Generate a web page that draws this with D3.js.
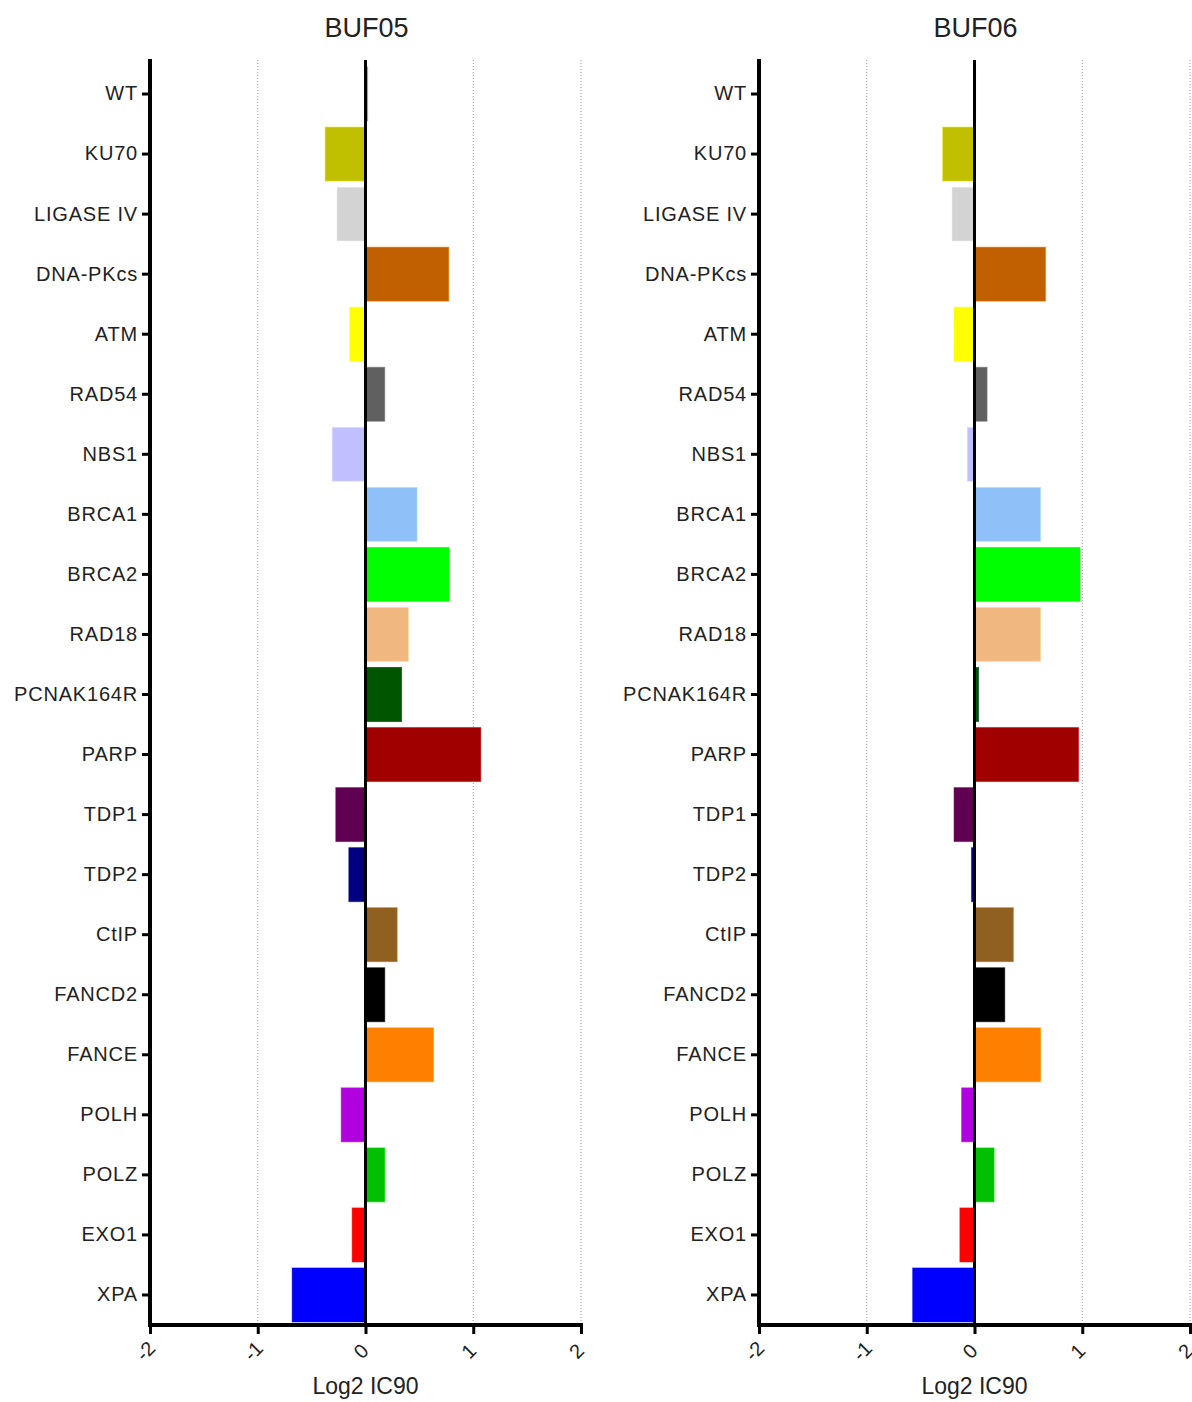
<!DOCTYPE html>
<html>
<head>
<meta charset="utf-8">
<script src="https://cdn.jsdelivr.net/npm/d3@7"></script>
<style>
  body { margin: 0; background: #fff; }
  svg { display: block; font-family: "Liberation Sans", Arial, sans-serif; }
</style>
</head>
<body>
<svg id="chart" width="1192" height="1402"></svg>
<script>
const categories = ["WT","KU70","LIGASE IV","DNA-PKcs","ATM","RAD54","NBS1","BRCA1","BRCA2","RAD18","PCNAK164R","PARP","TDP1","TDP2","CtIP","FANCD2","FANCE","POLH","POLZ","EXO1","XPA"];
const colors = ["#7070f0","#c0c000","#d3d3d3","#c06000","#ffff00","#606060","#c0c0ff","#90c0f8","#00ff00","#f0b880","#005500","#a00000","#600050","#000080","#906020","#000000","#ff8000","#b000e0","#00c000","#ff0000","#0000ff"];
const buf05 = [0.02,-0.375,-0.266,0.773,-0.146,0.179,-0.31,0.479,0.776,0.399,0.334,1.07,-0.276,-0.155,0.294,0.179,0.631,-0.226,0.179,-0.124,-0.681];
const buf06 = [0.01,-0.296,-0.21,0.66,-0.19,0.117,-0.068,0.614,0.98,0.614,0.037,0.966,-0.19,-0.028,0.361,0.281,0.614,-0.12,0.182,-0.136,-0.574];
const xTicks = [-2,-1,0,1,2];
const titles = ["BUF05","BUF06"];
const xTitle = "Log2 IC90";

const svg = d3.select("#chart");
const y = d3.scaleBand().domain(categories).range([64, 1325]).paddingInner(0.1).paddingOuter(0.05);

const panels = [
  {title: titles[0], values: buf05, x0: 150, x1: 581},
  {title: titles[1], values: buf06, x0: 759, x1: 1190}
];

panels.forEach(p => {
  const x = d3.scaleLinear().domain([-2, 2]).range([p.x0, p.x1]);
  const g = svg.append("g");

  // dotted grid lines
  g.selectAll("line.grid").data(xTicks.filter(t => t !== 0 && t !== -2)).join("line")
    .attr("x1", d => x(d)).attr("x2", d => x(d))
    .attr("y1", 60).attr("y2", 1325)
    .attr("stroke", "#9a9a9a").attr("stroke-width", 1)
    .attr("stroke-dasharray", "1,2");

  // bars
  g.selectAll("rect.bar").data(categories).join("rect")
    .attr("x", (d, i) => x(Math.min(0, p.values[i])))
    .attr("y", d => y(d))
    .attr("width", (d, i) => Math.abs(x(p.values[i]) - x(0)))
    .attr("height", y.bandwidth())
    .attr("fill", (d, i) => colors[i])
    .attr("stroke", (d, i) => d === "PCNAK164R" ? "#1f6a4a" : d3.color(colors[i]).brighter(0.6))
    .attr("stroke-opacity", (d, i) => d === "PCNAK164R" ? 1 : 0.5)
    .attr("stroke-width", 1);

  // zero line
  g.append("line")
    .attr("x1", x(0)).attr("x2", x(0))
    .attr("y1", 60).attr("y2", 1325)
    .attr("stroke", "#000").attr("stroke-width", 3);

  // y axis
  const yAxis = g.append("g").attr("transform", `translate(${p.x0},0)`)
    .call(d3.axisLeft(y).tickSize(8).tickPadding(4).tickSizeOuter(0));
  yAxis.select(".domain").remove();
  yAxis.selectAll(".tick line").attr("stroke", "#000").attr("stroke-width", 3);
  yAxis.selectAll(".tick text")
    .attr("fill", "#222").style("font-size", "20px").style("letter-spacing", "0.8px")
    .attr("font-family", "Liberation Sans, Arial, sans-serif");
  g.append("line")
    .attr("x1", p.x0).attr("x2", p.x0).attr("y1", 59).attr("y2", 1327)
    .attr("stroke", "#000").attr("stroke-width", 4);

  // x axis
  const xAxis = g.append("g").attr("transform", "translate(0,1325)")
    .call(d3.axisBottom(x).tickValues(xTicks).tickSize(9).tickSizeOuter(0).tickFormat(d3.format("d")));
  xAxis.select(".domain").remove();
  xAxis.selectAll(".tick line").attr("stroke", "#000").attr("stroke-width", 3);
  xAxis.selectAll(".tick text")
    .attr("fill", "#222").style("font-size", "20px")
    .attr("text-anchor", "middle").attr("dy", null).attr("y", null)
    .attr("dominant-baseline", "central")
    .attr("transform", "translate(-5,26) rotate(-45)")
    .text(d => d < 0 ? "-" + Math.abs(d) : d);
  g.append("line")
    .attr("x1", p.x0 - 2).attr("x2", p.x1 + 2).attr("y1", 1325).attr("y2", 1325)
    .attr("stroke", "#000").attr("stroke-width", 4);

  // titles
  g.append("text").attr("x", x(0) + 1).attr("y", 37)
    .attr("text-anchor", "middle").attr("fill", "#222")
    .style("font-size", "27px").text(p.title);
  g.append("text").attr("x", x(0)).attr("y", 1394)
    .attr("text-anchor", "middle").attr("fill", "#222")
    .style("font-size", "23px").text(xTitle);
});
</script>
</body>
</html>
